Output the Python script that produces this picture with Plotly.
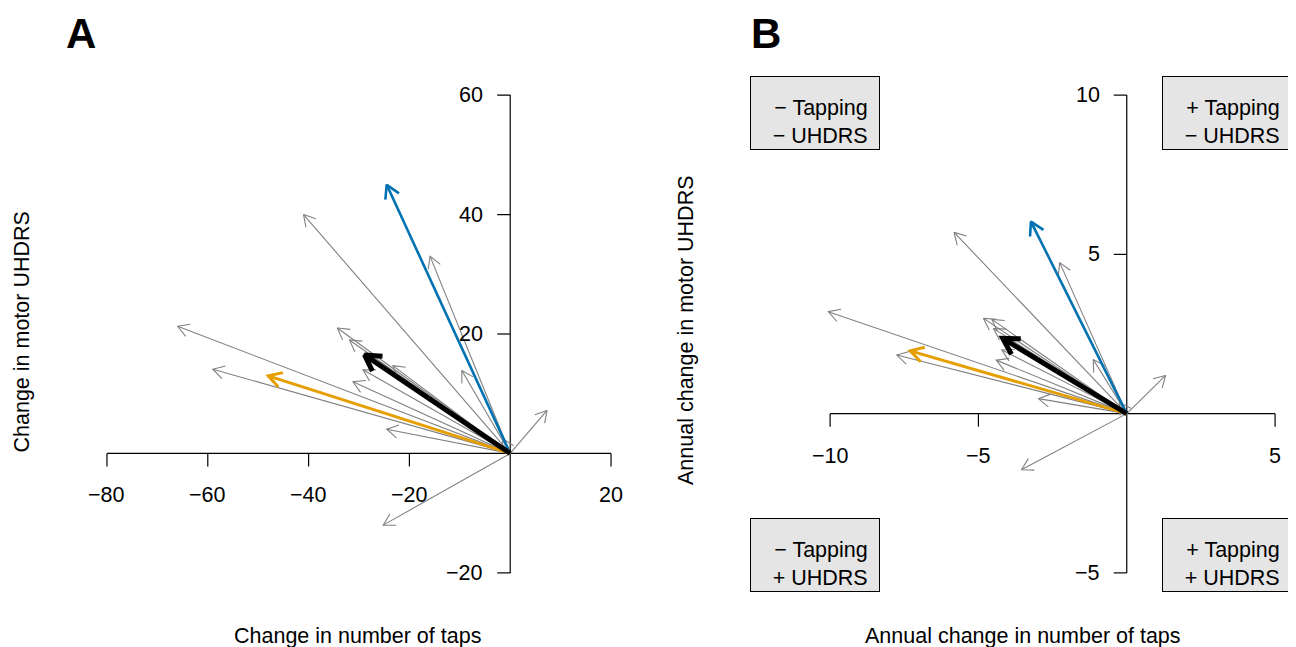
import math
import plotly.graph_objects as go

# The page body has an 8px margin, so the figure is made 8px smaller and all
# window-pixel measurements are shifted by that offset.
OFF = 8
WIN_W, WIN_H = 1296, 647
W, H = WIN_W - OFF, WIN_H - OFF

# ---------------- Panel A data (change in taps, change in motor UHDRS) ----------------
a_gray_dx = [-41.0, -15.9, -66.0, -34.3, -31.9, -23.3, -29.2, -31.2, -9.6, -59.0, -24.5, -25.2, 7.3, -1.5]
a_gray_dy = [40.0, 33.0, 21.3, 21.0, 19.0, 14.7, 14.0, 12.0, 13.9, 14.1, 4.05, -12.0, 7.2, 2.5]
a_blue_dx, a_blue_dy = [-24.5], [45.0]
a_orange_dx, a_orange_dy = [-48.0], [13.0]
a_black_dx, a_black_dy = [-28.9], [16.5]
a_xticks = [-80, -60, -40, -20, 0, 20]
a_yticks = [-20, 0, 20, 40, 60]

# ---------------- Panel B data (annual changes) ----------------
b_gray_dx = [-5.82, -2.26, -10.06, -4.83, -4.55, -4.49, -4.21, -4.40, -1.13, -7.75, -2.98, -3.55, 1.31, -0.25]
b_gray_dy = [5.69, 4.74, 3.20, 2.99, 2.96, 2.67, 2.00, 1.68, 1.70, 1.84, 0.47, -1.76, 1.20, 0.35]
b_blue_dx, b_blue_dy = [-3.23], [6.03]
b_orange_dx, b_orange_dy = [-7.30], [1.97]
b_black_dx, b_black_dy = [-4.18], [2.36]
b_xticks = [-10, -5, 0, 5]
b_yticks = [-5, 0, 5, 10]

PADR = "\u00a0\u2009"
quadrant_labels = ["\u2212 Tapping" + PADR + "<br>\u2212 UHDRS" + PADR,
                   "+ Tapping" + PADR + "<br>\u2212 UHDRS" + PADR,
                   "\u2212 Tapping" + PADR + "<br>+ UHDRS" + PADR,
                   "+ Tapping" + PADR + "<br>+ UHDRS" + PADR]

FONT = "Liberation Sans, Arial, Helvetica, sans-serif"
FS = 21.5
GRAY = "#808080"
BLUE = "#0072B2"
ORANGE = "#E69F00"
MINUS = "\u2212"

# panel geometry (window pixels) and axis ranges
panels = {
    "A": dict(px0=86.8, px1=631.2, py0=76, py1=592, xr=[-84, 24], yr=[-23.2, 63.2],
              xa="x", ya="y"),
    "B": dict(px0=750, px1=1292, py0=76, py1=592, xr=[-12.70, 5.57], yr=[-5.6, 10.6],
              xa="x2", ya="y2"),
}


def fmt(v):
    s = str(int(v)) if float(v).is_integer() else str(v)
    return s.replace("-", MINUS)


def arrow_xy(dxs, dys, p, head_len):
    sx = (p["px1"] - p["px0"]) / (p["xr"][1] - p["xr"][0])
    sy = (p["py1"] - p["py0"]) / (p["yr"][1] - p["yr"][0])
    xs, ys = [], []
    for dx, dy in zip(dxs, dys):
        ang = math.atan2(dy * sy, dx * sx)
        back = ang + math.pi
        b1 = back + math.pi / 6
        b2 = back - math.pi / 6
        hx1 = dx + head_len * math.cos(b1) / sx
        hy1 = dy + head_len * math.sin(b1) / sy
        hx2 = dx + head_len * math.cos(b2) / sx
        hy2 = dy + head_len * math.sin(b2) / sy
        xs += [0, dx, None, hx1, dx, hx2, None]
        ys += [0, dy, None, hy1, dy, hy2, None]
    return xs, ys


fig = go.Figure()
shapes = []
annotations = []

series = {
    "A": [(a_gray_dx, a_gray_dy, GRAY, 1.1, 13),
          (a_blue_dx, a_blue_dy, BLUE, 2.6, 15),
          (a_orange_dx, a_orange_dy, ORANGE, 3.0, 15),
          (a_black_dx, a_black_dy, "black", 5.0, 18)],
    "B": [(b_gray_dx, b_gray_dy, GRAY, 1.1, 13),
          (b_blue_dx, b_blue_dy, BLUE, 2.6, 15),
          (b_orange_dx, b_orange_dy, ORANGE, 3.0, 15),
          (b_black_dx, b_black_dy, "black", 5.0, 18)],
}
ticks = {"A": (a_xticks, a_yticks), "B": (b_xticks, b_yticks)}

for key, p in panels.items():
    for dxs, dys, col, lw, hl in series[key]:
        xs, ys = arrow_xy(dxs, dys, p, hl)
        fig.add_trace(go.Scatter(x=xs, y=ys, mode="lines", xaxis=p["xa"], yaxis=p["ya"],
                                 line=dict(color=col, width=lw), hoverinfo="skip",
                                 showlegend=False))
    xt, yt = ticks[key]
    xref, yref = p["xa"], p["ya"]
    # axis lines through the origin
    shapes.append(dict(type="line", xref=xref, yref=yref, x0=min(xt), x1=max(xt), y0=0, y1=0,
                       line=dict(color="black", width=1.2), layer="below"))
    shapes.append(dict(type="line", xref=xref, yref=yref, x0=0, x1=0, y0=min(yt), y1=max(yt),
                       line=dict(color="black", width=1.2), layer="below"))
    for t in xt:
        if t == 0:
            continue
        shapes.append(dict(type="line", xref=xref, yref=yref, ysizemode="pixel", yanchor=0,
                           x0=t, x1=t, y0=0, y1=-13, line=dict(color="black", width=1.2)))
        annotations.append(dict(x=t, y=0, xref=xref, yref=yref, text=fmt(t), showarrow=False,
                                xanchor="center", yanchor="middle", yshift=-42,
                                font=dict(family=FONT, size=FS, color="black")))
    for t in yt:
        if t == 0:
            continue
        shapes.append(dict(type="line", xref=xref, yref=yref, xsizemode="pixel", xanchor=0,
                           x0=0, x1=-13, y0=t, y1=t, line=dict(color="black", width=1.2)))
        annotations.append(dict(x=0, y=t, xref=xref, yref=yref, text=fmt(t), showarrow=False,
                                xanchor="right", yanchor="middle", xshift=-25,
                                font=dict(family=FONT, size=FS, color="black")))

# quadrant boxes in panel B
pB = panels["B"]
corners = [(pB["xr"][0], pB["yr"][1], "left", "top"),
           (pB["xr"][1], pB["yr"][1], "right", "top"),
           (pB["xr"][0], pB["yr"][0], "left", "bottom"),
           (pB["xr"][1], pB["yr"][0], "right", "bottom")]
for lab, (cx, cy, xa, ya) in zip(quadrant_labels, corners):
    annotations.append(dict(x=cx, y=cy, xref="x2", yref="y2", text=lab, showarrow=False,
                            xanchor=xa, yanchor=ya, align="right", valign="bottom",
                            width=126, height=70, borderpad=1,
                            bgcolor="#E5E5E5", bordercolor="black", borderwidth=1,
                            font=dict(family=FONT, size=FS, color="black")))


def px(x):
    return (x - OFF) / W


def py(y):
    return 1 - (y - OFF) / H


# titles
annotations += [
    dict(x=px(357), y=py(636), xref="paper", yref="paper", text="Change in number of taps",
         showarrow=False, xanchor="center", yanchor="middle",
         font=dict(family=FONT, size=FS, color="black")),
    dict(x=px(1023), y=py(636), xref="paper", yref="paper", text="Annual change in number of taps",
         showarrow=False, xanchor="center", yanchor="middle",
         font=dict(family=FONT, size=FS, color="black")),
    dict(x=px(8.5), y=py(332), xref="paper", yref="paper", text="Change in motor UHDRS",
         showarrow=False, textangle=-90, xanchor="left", yanchor="middle", borderpad=0,
         font=dict(family=FONT, size=FS, color="black")),
    dict(x=px(686), y=py(330), xref="paper", yref="paper", text="Annual change in motor UHDRS",
         showarrow=False, textangle=-90, xanchor="center", yanchor="middle",
         font=dict(family=FONT, size=FS, color="black")),
    dict(x=px(81), y=py(8.5), xref="paper", yref="paper", text="<b>A</b>",
         showarrow=False, xanchor="center", yanchor="top", borderpad=0,
         font=dict(family="Liberation Sans Narrow, Liberation Sans, Arial", size=42, color="black")),
    dict(x=px(766), y=py(8.5), xref="paper", yref="paper", text="<b>B</b>",
         showarrow=False, xanchor="center", yanchor="top", borderpad=0,
         font=dict(family="Liberation Sans Narrow, Liberation Sans, Arial", size=42, color="black")),
]


def axis(p, which):
    if which == "x":
        dom = [px(p["px0"]), px(p["px1"])]
        rng = p["xr"]
    else:
        dom = [py(p["py1"]), py(p["py0"])]
        rng = p["yr"]
    return dict(domain=dom, range=rng, visible=False, fixedrange=True)


pA = panels["A"]
fig.update_layout(
    width=W, height=H,
    margin=dict(l=0, r=0, t=0, b=0),
    paper_bgcolor="white", plot_bgcolor="white",
    xaxis=dict(**axis(pA, "x"), anchor="y"),
    yaxis=dict(**axis(pA, "y"), anchor="x"),
    xaxis2=dict(**axis(pB, "x"), anchor="y2"),
    yaxis2=dict(**axis(pB, "y"), anchor="x2"),
    shapes=shapes,
    annotations=annotations,
    showlegend=False,
    font=dict(family=FONT),
)

fig.write_html("out.html")
